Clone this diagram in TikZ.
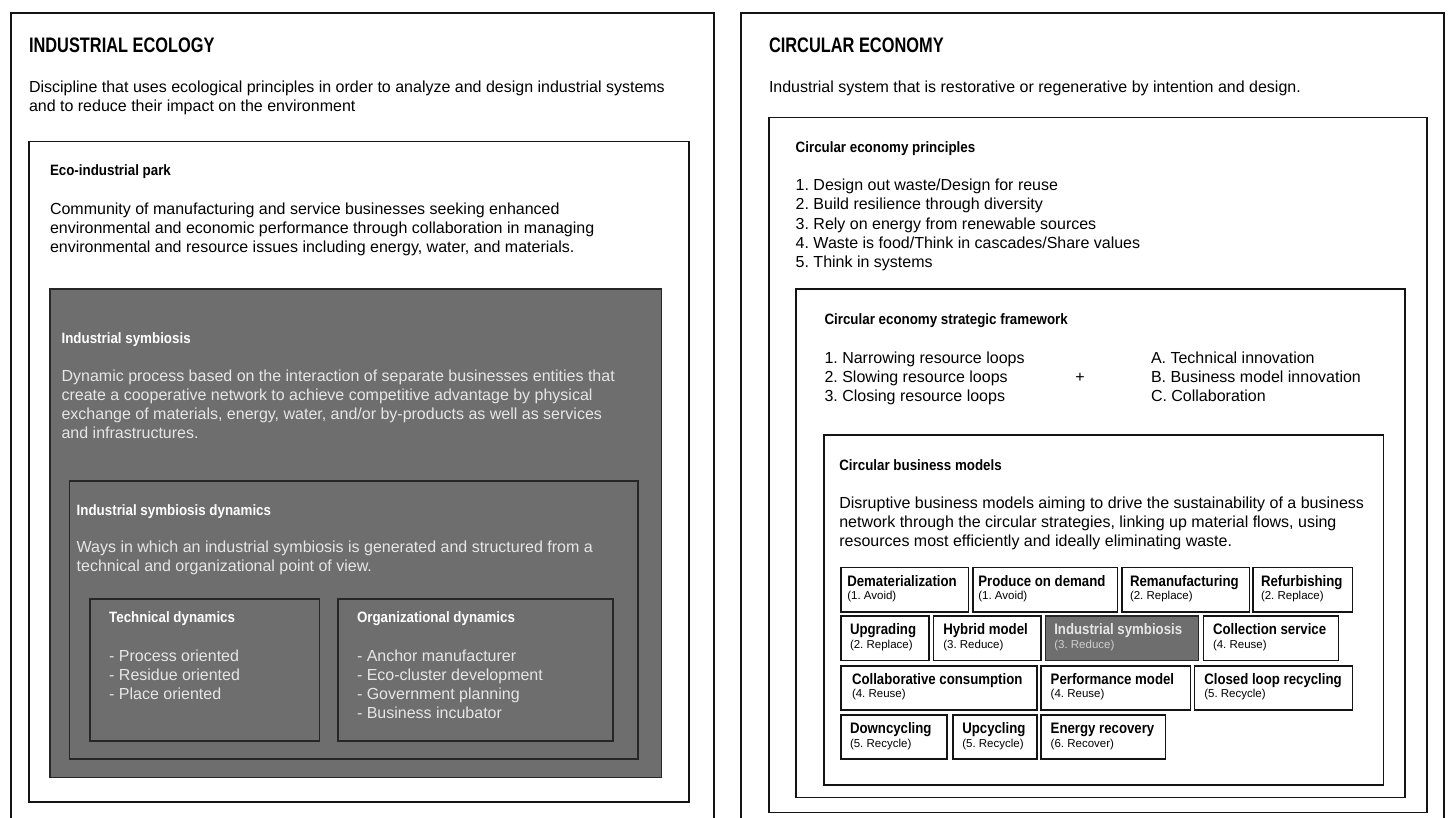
\documentclass[tikz,border=0pt]{standalone}
\usepackage{fontspec}
\setmainfont{Liberation Sans}
\newfontfamily\ttlfont[FakeStretch=0.78]{Liberation Sans}
\newfontfamily\hdfont[FakeStretch=0.89]{Liberation Sans}
\newfontfamily\mtfont[FakeStretch=0.87]{Liberation Sans}
\definecolor{boxgray}{HTML}{6E6E6E}
\definecolor{ongray}{HTML}{E6E6E6}
\definecolor{ongraysub}{HTML}{CFCFCF}
\frenchspacing
\newcommand\bx[6]{\node[#6, anchor=north west, minimum width={#4-#2}, minimum height={#5-#3}] (#1) at (#2,#3) {};}
\newcommand\tline[5]{\node[txt,#4] (#1) at (#2,#3) {#5};}
\newcommand\mb[8]{%
  \bx{#1}{#2}{#4}{#3}{#4+44.2}{#8}%
  \tline{#1t}{#5}{#4+18.6}{mtitle}{#6}%
  \tline{#1s}{#5}{#4+32.2}{msub}{#7}}
\begin{document}
\begin{tikzpicture}[x=1pt,y=-1pt,
  frame/.style={draw=black!92, line width=1.6pt, inner sep=0pt, outer sep=0pt},
  grayframe/.style={frame, fill=boxgray, draw=black!85},
  mframe/.style={frame, line width=1.8pt},
  mgray/.style={mframe, fill=boxgray, draw=black!85},
  txt/.style={anchor=base west, inner sep=0pt, outer sep=0pt},
  ttl/.style={font=\ttlfont\bfseries\fontsize{21}{25}\selectfont},
  hd/.style={font=\hdfont\bfseries\fontsize{15}{17}\selectfont},
  body/.style={font=\fontsize{16}{19}\selectfont},
  mtitle/.style={font=\mtfont\bfseries\fontsize{15.2}{17}\selectfont},
  msub/.style={font=\fontsize{11.5}{13}\selectfont},
  wt/.style={text=white},
  gt/.style={text=ongray}]
\useasboundingbox (0,0) rectangle (1451,818);
\clip (0,0) rectangle (1451,818);

% ---------------- left panel ----------------
\bx{ie}{11}{13.3}{714}{850}{frame}
\tline{ieT}{29}{52.5}{ttl}{INDUSTRIAL ECOLOGY}
\tline{ieA}{29}{92.7}{body}{Discipline that uses ecological principles in order to analyze and design industrial systems}
\tline{ieB}{29}{111.7}{body}{and to reduce their impact on the environment}

\bx{eip}{28.7}{141.7}{689}{801.7}{frame}
\tline{eipT}{50}{175.7}{hd}{Eco-industrial park}
\tline{eipA}{50}{214.3}{body}{Community of manufacturing and service businesses seeking enhanced}
\tline{eipB}{50}{233.3}{body}{environmental and economic performance through collaboration in managing}
\tline{eipC}{50}{252.3}{body}{environmental and resource issues including energy, water, and materials.}

\bx{is}{50}{289}{661.5}{777.3}{grayframe}
\tline{isT}{61.6}{344}{hd,wt}{Industrial symbiosis}
\tline{isA}{61.6}{381.7}{body,gt}{Dynamic process based on the interaction of separate businesses entities that}
\tline{isB}{61.6}{400.7}{body,gt}{create a cooperative network to achieve competitive advantage by physical}
\tline{isC}{61.6}{419.7}{body,gt}{exchange of materials, energy, water, and/or by-products as well as services}
\tline{isD}{61.6}{438.7}{body,gt}{and infrastructures.}

\bx{isd}{69.5}{481}{638}{759}{grayframe}
\tline{isdT}{76.7}{515}{hd,wt}{Industrial symbiosis dynamics}
\tline{isdA}{76.7}{552.7}{body,gt}{Ways in which an industrial symbiosis is generated and structured from a}
\tline{isdB}{76.7}{571.7}{body,gt}{technical and organizational point of view.}

\bx{td}{89.7}{599}{319.4}{741}{grayframe}
\tline{tdT}{109.2}{622.7}{hd,wt}{Technical dynamics}
\tline{tdA}{109.2}{661}{body,gt}{- Process oriented}
\tline{tdB}{109.2}{680}{body,gt}{- Residue oriented}
\tline{tdC}{109.2}{699}{body,gt}{- Place oriented}

\bx{od}{337.8}{599}{612.7}{741}{grayframe}
\tline{odT}{357}{622.7}{hd,wt}{Organizational dynamics}
\tline{odA}{357}{661}{body,gt}{- Anchor manufacturer}
\tline{odB}{357}{680}{body,gt}{- Eco-cluster development}
\tline{odC}{357}{699}{body,gt}{- Government planning}
\tline{odD}{357}{718}{body,gt}{- Business incubator}

% ---------------- right panel ----------------
\bx{ce}{741}{13.3}{1444}{850}{frame}
\tline{ceT}{769}{52.5}{ttl}{CIRCULAR ECONOMY}
\tline{ceA}{769}{92.7}{body}{Industrial system that is restorative or regenerative by intention and design.}

\bx{cep}{769}{117.7}{1426.7}{812.3}{frame}
\tline{cepT}{795.7}{153}{hd}{Circular economy principles}
\tline{cep1}{795.7}{191}{body}{1. Design out waste/Design for reuse}
\tline{cep2}{795.7}{210}{body}{2. Build resilience through diversity}
\tline{cep3}{795.7}{229.2}{body}{3. Rely on energy from renewable sources}
\tline{cep4}{795.7}{248.4}{body}{4. Waste is food/Think in cascades/Share values}
\tline{cep5}{795.7}{267.5}{body}{5. Think in systems}

\bx{csf}{795.7}{289.3}{1405}{797.3}{frame}
\tline{csfT}{824.5}{324.5}{hd}{Circular economy strategic framework}
\tline{csf1}{824.5}{363.3}{body}{1. Narrowing resource loops}
\tline{csf2}{824.5}{382.5}{body}{2. Slowing resource loops}
\tline{csf3}{824.5}{401.5}{body}{3. Closing resource loops}
\node[body, anchor=base, inner sep=0pt] (plus) at (1080,382.5) {+};
\tline{csfA}{1151}{363.3}{body}{A. Technical innovation}
\tline{csfB}{1151}{382.5}{body}{B. Business model innovation}
\tline{csfC}{1151}{401.5}{body}{C. Collaboration}

\bx{cbm}{823.7}{434.7}{1383.3}{785}{frame}
\tline{cbmT}{839.3}{470}{hd}{Circular business models}
\tline{cbmA}{839.3}{508}{body}{Disruptive business models aiming to drive the sustainability of a business}
\tline{cbmB}{839.3}{527}{body}{network through the circular strategies, linking up material flows, using}
\tline{cbmC}{839.3}{546}{body}{resources most efficiently and ideally eliminating waste.}

% row 1
\mb{m1}{841}{968.5}{567.4}{847.3}{Dematerialization}{(1. Avoid)}{mframe}
\mb{m2}{973}{1117.5}{567.4}{978.3}{Produce on demand}{(1. Avoid)}{mframe}
\mb{m3}{1122}{1249.5}{567.4}{1130}{Remanufacturing}{(2. Replace)}{mframe}
\mb{m4}{1253}{1352.5}{567.4}{1261}{Refurbishing}{(2. Replace)}{mframe}
% row 2
\mb{m5}{841}{929}{616.2}{850}{Upgrading}{(2. Replace)}{mframe}
\mb{m6}{933.5}{1041}{616.2}{943.3}{Hybrid model}{(3. Reduce)}{mframe}
\bx{m7}{1045.5}{616.2}{1198.5}{660.4}{mgray}
\tline{m7t}{1054.3}{634.8}{mtitle,text=ongray}{Industrial symbiosis}
\tline{m7s}{1054.3}{648.4}{msub,text=ongraysub}{(3. Reduce)}
\mb{m8}{1203.5}{1338.5}{616.2}{1213}{Collection service}{(4. Reuse)}{mframe}
% row 3
\mb{m9}{841}{1037}{665.6}{852}{Collaborative consumption}{(4. Reuse)}{mframe}
\mb{m10}{1041}{1190.5}{665.6}{1050.7}{Performance model}{(4. Reuse)}{mframe}
\mb{m11}{1194.5}{1352.5}{665.6}{1204.3}{Closed loop recycling}{(5. Recycle)}{mframe}
% row 4
\mb{m12}{841}{947}{715}{850}{Downcycling}{(5. Recycle)}{mframe}
\mb{m13}{953}{1037}{715}{962.3}{Upcycling}{(5. Recycle)}{mframe}
\mb{m14}{1041}{1165.5}{715}{1050.7}{Energy recovery}{(6. Recover)}{mframe}
\end{tikzpicture}
\end{document}
